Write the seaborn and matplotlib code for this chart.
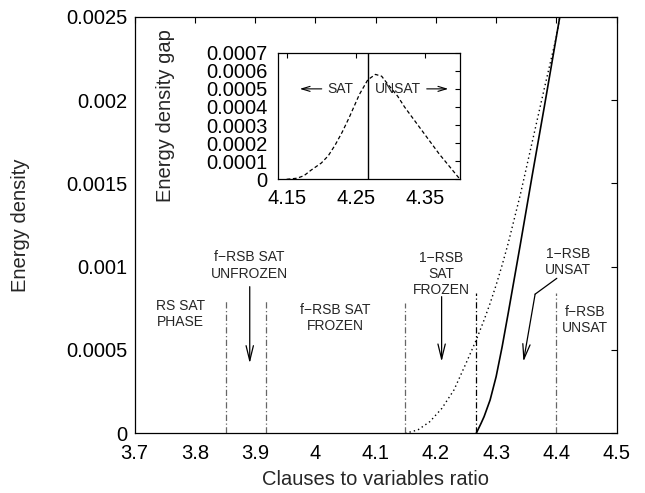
import matplotlib
matplotlib.use("Agg")
import matplotlib.pyplot as plt
import seaborn as sns
import pandas as pd

# ---- data ----
solid_x = [4.267, 4.275, 4.28, 4.29, 4.30, 4.31, 4.32, 4.34, 4.36, 4.38, 4.40, 4.42]
solid_y = [0.0, 0.00006, 0.0001, 0.00020, 0.00034, 0.00052, 0.00072, 0.00113, 0.00155, 0.00196, 0.00238, 0.0028]

dotted_x = [4.149, 4.17, 4.19, 4.21, 4.23, 4.25, 4.267, 4.28, 4.29, 4.30, 4.31, 4.32, 4.34, 4.36, 4.38, 4.40, 4.42]
dotted_y = [0.0, 0.00002, 0.00007, 0.00015, 0.00026, 0.00042, 0.00056, 0.00068, 0.00078, 0.00089, 0.00101, 0.00114,
            0.00143, 0.00175, 0.00207, 0.00238, 0.0028]

gap_x = [4.15, 4.165, 4.175, 4.185, 4.20, 4.21, 4.22, 4.23, 4.24, 4.255, 4.267, 4.278, 4.287, 4.295, 4.31, 4.32,
         4.345, 4.37, 4.385, 4.40]
gap_y = [0.0, 0.000006, 0.00002, 0.00005, 0.00009, 0.00013, 0.00019, 0.00026, 0.00034, 0.00047, 0.00055, 0.00058,
         0.00057, 0.00053, 0.00046, 0.00040, 0.00027, 0.00014, 0.00007, 0.0]

thresholds = [3.851, 3.918, 4.149, 4.267, 4.400]
threshold_tops = [0.00080, 0.00080, 0.00078, 0.00084, 0.00084]
threshold_colors = ["#666666", "#666666", "#666666", "#000000", "#666666"]

x_ticks = [3.7, 3.8, 3.9, 4.0, 4.1, 4.2, 4.3, 4.4, 4.5]
x_tick_labels = ["3.7", "3.8", "3.9", "4", "4.1", "4.2", "4.3", "4.4", "4.5"]
y_ticks = [0, 0.0005, 0.001, 0.0015, 0.002, 0.0025]
y_tick_labels = ["0", "0.0005", "0.001", "0.0015", "0.002", "0.0025"]

inset_x_ticks = [4.15, 4.25, 4.35]
inset_x_tick_labels = ["4.15", "4.25", "4.35"]
inset_y_ticks = [0, 0.0001, 0.0002, 0.0003, 0.0004, 0.0005, 0.0006, 0.0007]
inset_y_tick_labels = ["0", "0.0001", "0.0002", "0.0003", "0.0004", "0.0005", "0.0006", "0.0007"]
sat_unsat_line = 4.267

# ---- style ----
sns.set_theme(style="white")
plt.rcParams["font.family"] = ["Liberation Sans", "DejaVu Sans"]
plt.rcParams["axes.unicode_minus"] = True

FS = 14.5
tfs = 10

fig = plt.figure(figsize=(6.45, 4.93), dpi=100)
ax = fig.add_axes([0.2088, 0.1211, 0.7472, 0.845])

df_solid = pd.DataFrame({"x": solid_x, "y": solid_y})
df_dot = pd.DataFrame({"x": dotted_x, "y": dotted_y})
sns.lineplot(data=df_dot, x="x", y="y", ax=ax, color="black", lw=1.0,
             linestyle=(0, (1, 2.2)), sort=False)
sns.lineplot(data=df_solid, x="x", y="y", ax=ax, color="black", lw=1.2, sort=False)

for xv, top, c in zip(thresholds, threshold_tops, threshold_colors):
    ax.plot([xv, xv], [0, top], color=c, lw=0.9, linestyle=(0, (5, 2, 1, 2)))

ax.set_xlim(3.7, 4.5)
ax.set_ylim(0, 0.0025)
ax.set_xticks(x_ticks)
ax.set_xticklabels(x_tick_labels)
ax.set_yticks(y_ticks)
ax.set_yticklabels(y_tick_labels)
ax.tick_params(direction="in", length=4.5, width=0.8, top=True, right=True,
               labelsize=FS, colors="black", pad=5)
ax.tick_params(axis="x", pad=8)
for s in ax.spines.values():
    s.set_color("black")
    s.set_linewidth(0.9)
ax.set_xlabel("Clauses to variables ratio", fontsize=FS, labelpad=5)
ax.set_ylabel("Energy density", fontsize=FS, labelpad=26)

ax.text(3.776, 0.000716, "RS SAT\nPHASE", ha="center", va="center", fontsize=tfs, linespacing=1.2)
ax.text(3.891, 0.001007, "f\u2212RSB SAT\nUNFROZEN", ha="center", va="center", fontsize=tfs, linespacing=1.2)
ax.text(4.0325, 0.00069, "f\u2212RSB SAT\nFROZEN", ha="center", va="center", fontsize=tfs, linespacing=1.2)
ax.text(4.2095, 0.000956, "1\u2212RSB\nSAT\nFROZEN", ha="center", va="center", fontsize=tfs, linespacing=1.2)
ax.text(4.419, 0.00103, "1\u2212RSB\nUNSAT", ha="center", va="center", fontsize=tfs, linespacing=1.2)
ax.text(4.4474, 0.00068, "f\u2212RSB\nUNSAT", ha="center", va="center", fontsize=tfs, linespacing=1.2)

aprops = dict(arrowstyle="->,head_length=0.9,head_width=0.22", lw=0.9, color="black",
              shrinkA=0, shrinkB=0)
ax.annotate("", xy=(3.891, 0.00042), xytext=(3.891, 0.00088), arrowprops=aprops)
ax.annotate("", xy=(4.2095, 0.00043), xytext=(4.2095, 0.00082), arrowprops=aprops)
ax.plot([4.4007, 4.3647], [0.00093, 0.000835], color="black", lw=0.9)
ax.annotate("", xy=(4.3453, 0.00043), xytext=(4.3647, 0.000835), arrowprops=aprops)

# ---- inset ----
ins = fig.add_axes([0.4315, 0.6363, 0.2817, 0.2568])
df_gap = pd.DataFrame({"x": gap_x, "y": gap_y})
sns.lineplot(data=df_gap, x="x", y="y", ax=ins, color="black", lw=0.9,
             linestyle=(0, (3, 2)), sort=False)
ins.axvline(sat_unsat_line, color="black", lw=1.0)
ins.set_xlim(4.138, 4.40)
ins.set_ylim(0, 0.0007)
ins.set_xticks(inset_x_ticks)
ins.set_xticklabels(inset_x_tick_labels)
ins.set_yticks(inset_y_ticks)
ins.set_yticklabels(inset_y_tick_labels)
ins.tick_params(direction="in", length=3.5, width=0.8, top=True, right=True,
                labelsize=FS, colors="black", pad=8)
ins.tick_params(axis="x", pad=7)
for s in ins.spines.values():
    s.set_color("black")
    s.set_linewidth(0.9)
ins.set_xlabel("")
ins.set_ylabel("Energy density gap", fontsize=FS, labelpad=22)
ins.text(4.227, 0.0005, "SAT", ha="center", va="center", fontsize=tfs)
ins.text(4.311, 0.0005, "UNSAT", ha="center", va="center", fontsize=tfs)
iprops = dict(arrowstyle="->,head_length=0.5,head_width=0.15", lw=0.8, color="black",
              shrinkA=0, shrinkB=0)
ins.annotate("", xy=(4.169, 0.0005), xytext=(4.2006, 0.0005), arrowprops=iprops)
ins.annotate("", xy=(4.383, 0.0005), xytext=(4.352, 0.0005), arrowprops=iprops)

fig.savefig("out.png", dpi=100)
